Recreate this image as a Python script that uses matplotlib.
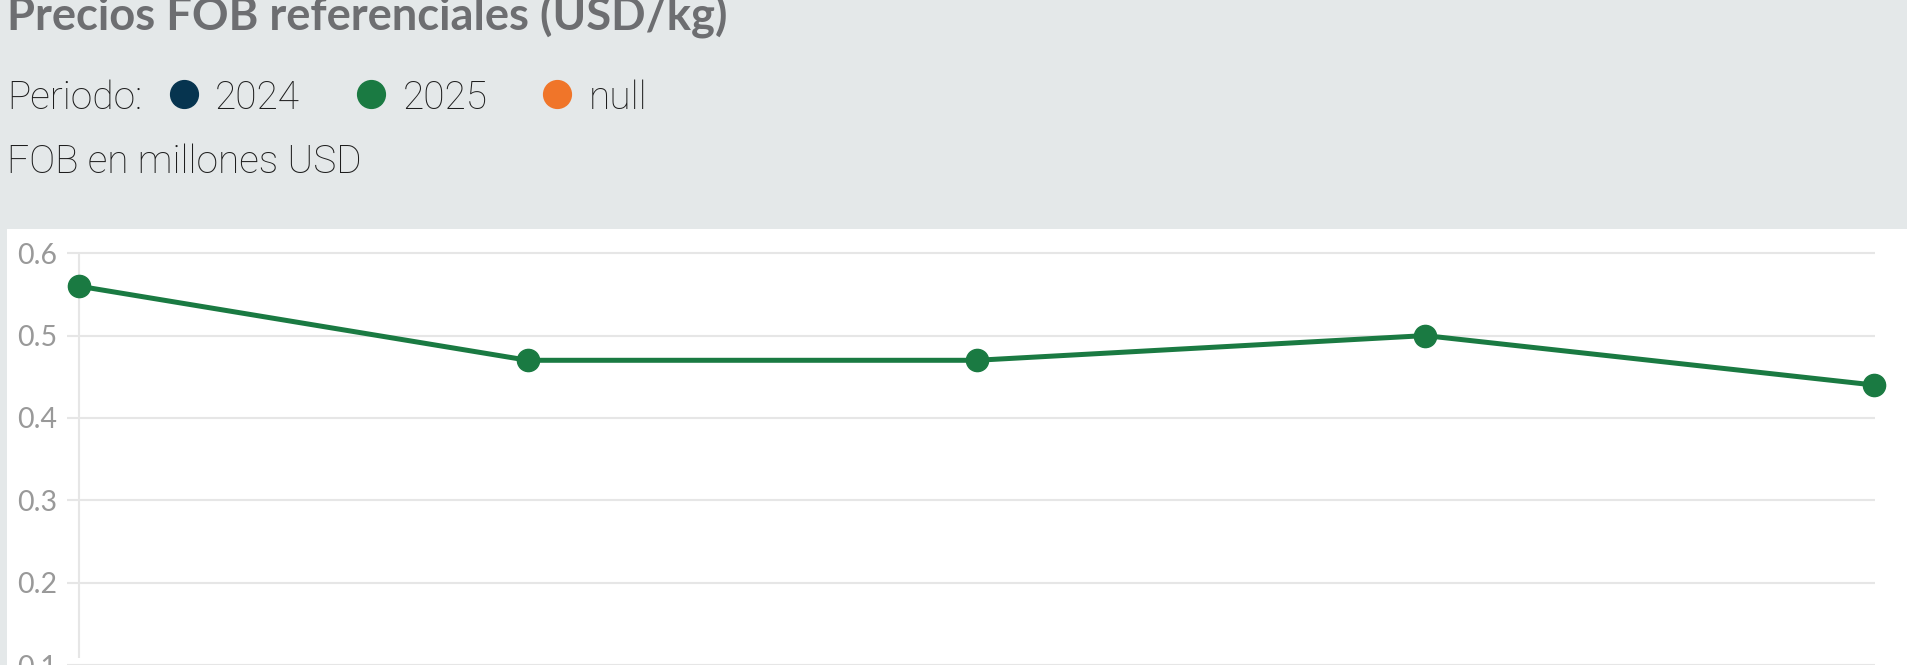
import matplotlib
matplotlib.use("Agg")
import matplotlib.pyplot as plt
from matplotlib.lines import Line2D

# ---- data ----
x_idx = [0, 1, 2, 3, 4]
values_2025 = [0.56, 0.47, 0.47, 0.50, 0.44]
y_ticks = [0.1, 0.2, 0.3, 0.4, 0.5, 0.6]
y_tick_labels = ["0.1", "0.2", "0.3", "0.4", "0.5", "0.6"]
legend_labels = ["2024", "2025", "null"]
legend_colors = ["#06344f", "#1a7a42", "#f07529"]
title = "Precios FOB referenciales (USD/kg)"
subtitle = "FOB en millones USD"

W, H = 1907, 665
DPI = 100
fig = plt.figure(figsize=(W / DPI, H / DPI), dpi=DPI)
fig.patch.set_facecolor("#e4e8e9")

def fx(px):
    return px / W

def fy(py):
    return 1 - py / H

# white panel
panel = plt.Rectangle((fx(7), 0), fx(W - 7), fy(229), transform=fig.transFigure,
                      facecolor="white", edgecolor="none", zorder=-10)
fig.patches.append(panel)

# title (top cropped)
fig.text(fx(7), fy(29), title, fontsize=32.7, fontweight="bold",
         family=["Lato", "DejaVu Sans"], color="#6d6e71",
         ha="left", va="baseline")

# legend row
TXT = dict(fontsize=28, family=["Roboto", "DejaVu Sans"], fontweight="light",
           color="#1e1e1e", ha="left", va="center_baseline")
fig.text(fx(7), fy(94), "Periodo:", **TXT)
dot_x = [184, 371, 557]
text_x = [215, 403, 589]
for lab, col, dx, tx in zip(legend_labels, legend_colors, dot_x, text_x):
    fig.add_artist(Line2D([fx(dx)], [fy(94)], marker="o", markersize=20,
                          color=col, transform=fig.transFigure, linestyle="none"))
    fig.text(fx(tx), fy(94), lab, **TXT)

fig.text(fx(7), fy(158), subtitle, **TXT)

# axes: plot area from x=67..1875 px, y top=237 .. bottom=665
ax_left, ax_right = 67, 1875
ax_top, ax_bot = 237, 665
ax = fig.add_axes([fx(ax_left), 0, fx(ax_right - ax_left), fy(ax_top)])
ax.set_facecolor("none")
px_per_unit = (1874 - 79) / 4.0
ax.set_xlim(-(79 - ax_left) / px_per_unit, 4 + (ax_right - 1874) / px_per_unit)
px_per_y = 83.7 / 0.1
y06 = 253.5
ymin = 0.6 - (ax_bot - y06) / px_per_y
ax.set_ylim(ymin, 0.6 + (y06 - ax_top) / px_per_y)

ax.set_yticks(y_ticks)
ax.set_yticklabels(y_tick_labels)
ax.tick_params(axis="y", length=0, pad=7, labelsize=20.5, labelcolor="#999999")
for lbl in ax.get_yticklabels():
    lbl.set_family(["Lato", "DejaVu Sans"])
    lbl.set_clip_on(False)
ax.set_xticks([])
for s in ax.spines.values():
    s.set_visible(False)
ax.grid(axis="y", color="#e6e6e6", linewidth=1.5)
ax.vlines(0, ymin, max(y_ticks), color="#e6e6e6", linewidth=1.5, zorder=1)

ax.plot(x_idx, values_2025, color=legend_colors[1], linewidth=3.6, marker="o",
        markersize=16, clip_on=False, zorder=3)

fig.savefig("out.png", dpi=DPI, facecolor=fig.get_facecolor())
